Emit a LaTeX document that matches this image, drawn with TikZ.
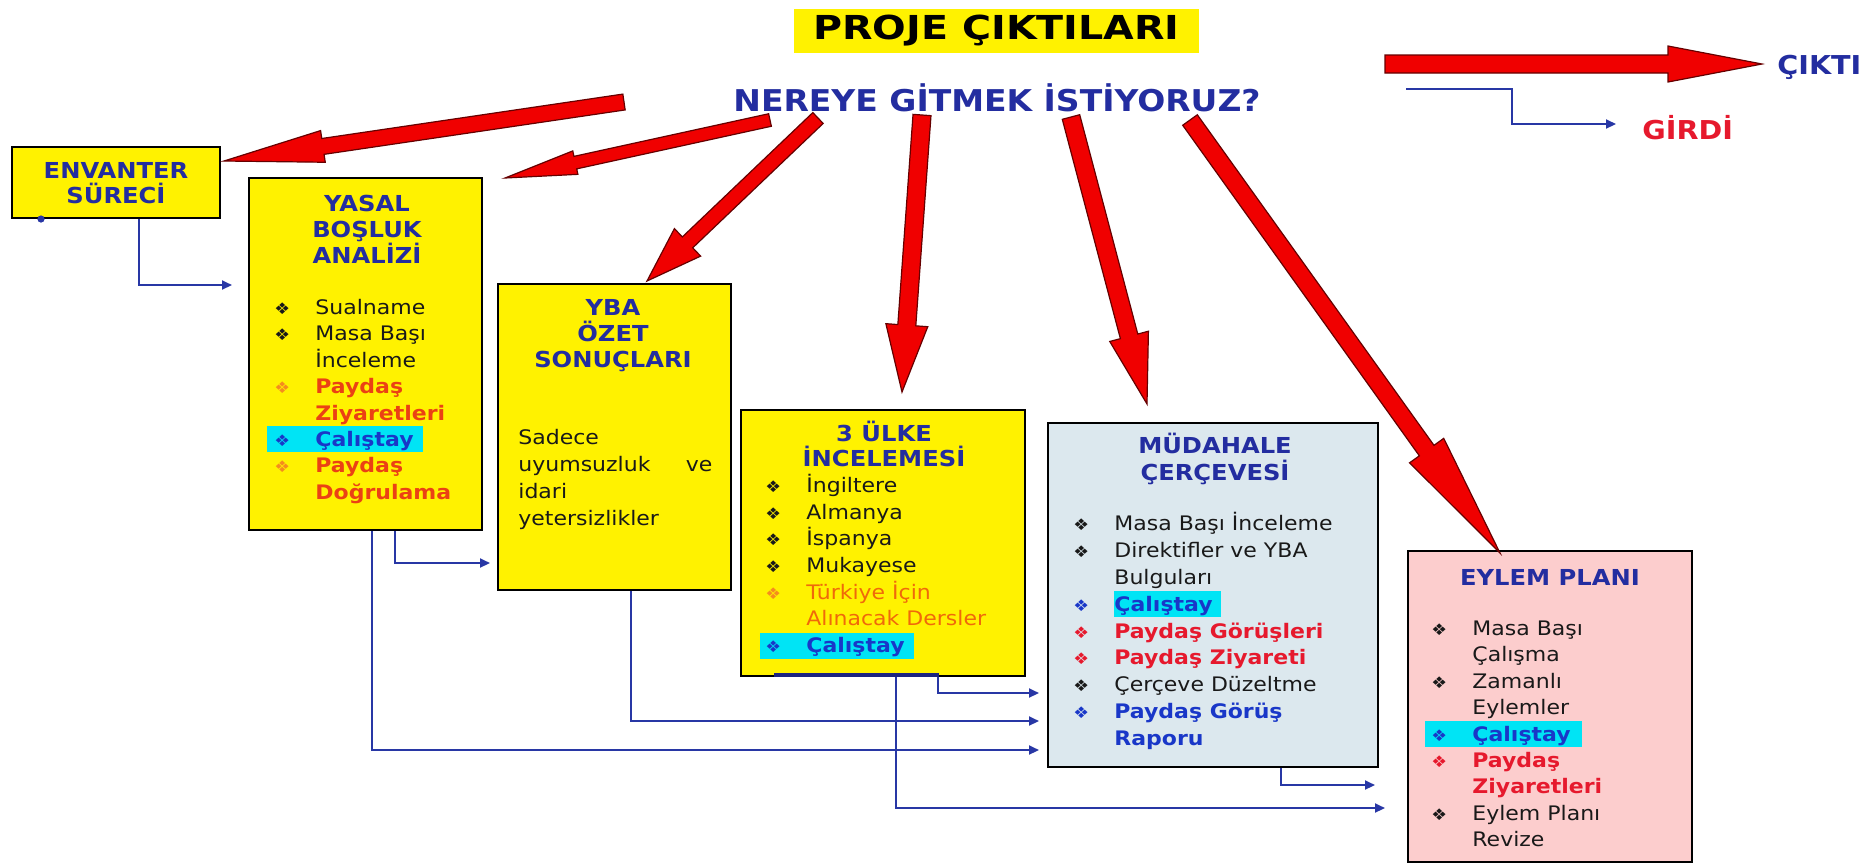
\documentclass[tikz,border=0pt]{standalone}
\usepackage{fontspec}
\setmainfont{DejaVu Sans}[FakeStretch=1.1]
\newfontfamily\Xwide{DejaVu Sans}[FakeStretch=1.2]
\usetikzlibrary{calc,fit,arrows.meta}
\definecolor{tblue}{RGB}{35,45,160}
\definecolor{bodyc}{RGB}{25,25,25}
\definecolor{ored}{RGB}{235,65,20}
\definecolor{orng}{RGB}{245,140,30}
\definecolor{tur}{RGB}{240,105,10}
\definecolor{rred}{RGB}{230,25,45}
\definecolor{calb}{RGB}{25,55,200}
\definecolor{hl}{RGB}{0,228,245}
\definecolor{cblue}{RGB}{40,55,165}
\definecolor{mudf}{RGB}{220,232,238}
\definecolor{eylf}{RGB}{252,205,205}
\definecolor{ared}{RGB}{240,0,0}
\tikzset{
  box/.style={draw=black, line width=1pt, inner sep=0pt},
  ybox/.style={box, fill=yellow},
  ttl/.style={font=\bfseries\fontsize{11}{13}\selectfont, text=tblue, align=center, inner sep=0pt, anchor=north},
  lst/.style={font=\fontsize{10}{13.2}\selectfont, align=left, inner sep=0pt, anchor=north west, text=bodyc},
  conn/.style={draw=cblue, line width=1pt, -{Triangle[length=5pt,width=4.5pt]}, shorten >=4pt},
  redarr/.style={fill=ared, draw=black!60!red, line width=0.6pt, line join=miter},
}
\newcommand\Xbul{{\fontsize{8}{8}\selectfont ❖}}
\newcommand\Xitm[3]{\makebox[20pt][l]{\hspace*{-0.5pt}\textcolor{#1}{\Xbul}}\textcolor{#2}{#3}}
\newcommand\Xcont[2]{\hspace*{20pt}\textcolor{#1}{#2}}
\newcommand\Xhl[2]{\makebox[0pt][l]{\hspace*{#1}\textcolor{hl}{\rule[-3pt]{#2}{13pt}}}}
\newcommand\Xst{\rule{0pt}{11pt}}
% tail, tip, head length, shaft half width, head half width
\newcommand\Xredarrow[5]{%
  \coordinate (rac) at ($(#2)!#3!(#1)$);
  \draw[redarr] ($(#1)!#4!90:(#2)$) -- ($(rac)!#4!90:(#2)$) -- ($(rac)!#5!90:(#2)$) -- (#2)
     -- ($(rac)!#5!-90:(#2)$) -- ($(rac)!#4!-90:(#2)$) -- ($(#1)!#4!-90:(#2)$) -- cycle;
}
\begin{document}
\begin{tikzpicture}[x=0.5pt,y=-0.5pt]
\useasboundingbox[fill=white] (0,0) rectangle (1864,864);

% headings
\node[fill=yellow, inner sep=0pt, minimum width=202.5pt, minimum height=22pt,
      font=\Xwide\bfseries\fontsize{16.5}{16.5}\selectfont, text=black] (title) at (996.5,31) {PROJE ÇIKTILARI};
\node[font=\bfseries\fontsize{15}{15}\selectfont, text=tblue, inner sep=0pt] (q) at (997,98) {NEREYE GİTMEK İSTİYORUZ?};

% legend
\node[font=\bfseries\fontsize{13}{13}\selectfont, text=tblue, inner sep=0pt, anchor=west] (cikti) at (1777,67) {ÇIKTI};
\node[font=\bfseries\fontsize{13}{13}\selectfont, text=rred, inner sep=0pt, anchor=west] (girdi) at (1642,128) {GİRDİ};
\coordinate (lgA) at (1385,64);
\coordinate (lgB) at (1762,64);
\coordinate (lg1) at (1406,89);
\coordinate (lgm) at (1512,124);
\coordinate (lg3) at (1616,124);
\draw[conn, shorten >=0pt] (lg1) -| (lgm) -- (lg3);

% boxes
\node[ybox, fit={(12,147) (220,218)}] (env) {};
\node[ybox, fit={(249,178) (482,530)}] (yasal) {};
\node[ybox, fit={(498,284) (731,590)}] (yba) {};
\node[ybox, fit={(741,410) (1025,676)}] (ulke) {};
\node[box, fill=mudf, fit={(1048,423) (1378,767)}] (mud) {};
\node[box, fill=eylf, fit={(1408,551) (1692,862)}] (eylem) {};

% box titles
\node[ttl, font=\bfseries\fontsize{11}{12.5}\selectfont] (env-t) at (116,156) {\Xst ENVANTER\\SÜRECİ};
\node[ttl] (yasal-t) at (367,189) {\Xst YASAL\\BOŞLUK\\ANALİZİ};
\node[ttl] (yba-t) at (613,293) {\Xst YBA\\ÖZET\\SONUÇLARI};
\node[ttl, font=\bfseries\fontsize{11}{12.5}\selectfont] (ulke-t) at (884,419) {\Xst 3 ÜLKE\\İNCELEMESİ};
\node[ttl, font=\bfseries\fontsize{11}{13.5}\selectfont] (mud-t) at (1215,431) {\Xst MÜDAHALE\\ÇERÇEVESİ};
\node[ttl] (eylem-t) at (1550,563) {\Xst EYLEM PLANI};

% box contents
\node[lst] (yasal-l) at (275,292) {\Xst\Xitm{bodyc}{bodyc}{Sualname}\\
\Xitm{bodyc}{bodyc}{Masa Başı}\\
\Xcont{bodyc}{İnceleme}\\
\Xitm{orng}{ored}{\bfseries Paydaş}\\
\Xcont{ored}{\bfseries Ziyaretleri}\\
\Xhl{-4pt}{78pt}\Xitm{calb}{calb}{\bfseries Çalıştay}\\
\Xitm{orng}{ored}{\bfseries Paydaş}\\
\Xcont{ored}{\bfseries Doğrulama}};

\node[lst, font=\fontsize{10}{13.5}\selectfont] (yba-l) at (518,422) {\Xst Sadece\\
\makebox[97pt][l]{uyumsuzluk\hfill ve}\\
idari\\
yetersizlikler};

\node[lst, font=\fontsize{10}{13.35}\selectfont] (ulke-l) at (766,470) {\Xst\Xitm{bodyc}{bodyc}{İngiltere}\\
\Xitm{bodyc}{bodyc}{Almanya}\\
\Xitm{bodyc}{bodyc}{İspanya}\\
\Xitm{bodyc}{bodyc}{Mukayese}\\
\Xitm{orng}{tur}{Türkiye İçin}\\
\Xcont{tur}{Alınacak Dersler}\\
\Xhl{-3pt}{77pt}\Xitm{calb}{calb}{\bfseries Çalıştay}};

\node[lst, font=\fontsize{10}{13.45}\selectfont] (mud-l) at (1074,508) {\Xst\Xitm{bodyc}{bodyc}{Masa Başı İnceleme}\\
\Xitm{bodyc}{bodyc}{Direktifler ve YBA}\\
\Xcont{bodyc}{Bulguları}\\
\Xhl{20pt}{53.5pt}\Xitm{calb}{calb}{\bfseries Çalıştay}\\
\Xitm{rred}{rred}{\bfseries Paydaş Görüşleri}\\
\Xitm{rred}{rred}{\bfseries Paydaş Ziyareti}\\
\Xitm{bodyc}{bodyc}{Çerçeve Düzeltme}\\
\Xitm{calb}{calb}{\bfseries Paydaş Görüş}\\
\Xcont{calb}{\bfseries Raporu}};

\node[lst] (eylem-l) at (1432,613) {\Xst\Xitm{bodyc}{bodyc}{Masa Başı}\\
\Xcont{bodyc}{Çalışma}\\
\Xitm{bodyc}{bodyc}{Zamanlı}\\
\Xcont{bodyc}{Eylemler}\\
\Xhl{-3.5pt}{78.5pt}\Xitm{calb}{calb}{\bfseries Çalıştay}\\
\Xitm{rred}{rred}{\bfseries Paydaş}\\
\Xcont{rred}{\bfseries Ziyaretleri}\\
\Xitm{bodyc}{bodyc}{Eylem Planı}\\
\Xcont{bodyc}{Revize}};

% decorations on boxes
\fill[cblue] ($(env.south west)+(30,0)$) circle (1.8pt);
\draw[draw=tblue!80!black, line width=2pt] ($(ulke.south west)+(34,-2)$) -- ($(ulke.south west)+(199,-2)$);

% input connectors
\coordinate (k1) at (139,285);
\coordinate (k2) at (395,563);
\coordinate (k3) at (372,750);
\coordinate (k4) at (631,721);
\coordinate (k5) at (938,693);
\coordinate (k6) at (896,808);
\coordinate (k7) at (1281,785);
\draw[conn, shorten >=8pt] (env.south -| k1) |- (yasal.west |- k1);
\draw[conn, shorten >=3.5pt] (yasal.south -| k2) |- (yba.west |- k2);
\draw[conn] (yasal.south -| k3) |- (mud.west |- k3);
\draw[conn] (yba.south -| k4) |- (mud.west |- k4);
\draw[conn] (ulke.south -| k5) |- (mud.west |- k5);
\draw[conn, shorten >=11pt] (ulke.south -| k6) |- (eylem.west |- k6);
\draw[conn, shorten >=16pt] (mud.south -| k7) |- (eylem.west |- k7);

% output arrows
\coordinate (t1) at (624,102);  \coordinate (h1) at (224,161);
\coordinate (t2) at (770,120);  \coordinate (h2) at (505,178);
\coordinate (t3) at (818,118);  \coordinate (h3) at (647,281);
\coordinate (t4) at (922,115);  \coordinate (h4) at (902,392);
\coordinate (t5) at (1071,117); \coordinate (h5) at (1147,404);
\coordinate (t6) at (1190,120); \coordinate (h6) at (1500,553);
\Xredarrow{t1}{h1}{50pt}{4pt}{8pt}
\Xredarrow{t2}{h2}{36pt}{3.2pt}{6pt}
\Xredarrow{t3}{h3}{28pt}{3.75pt}{9.5pt}
\Xredarrow{t4}{h4}{33.5pt}{4.5pt}{10.5pt}
\Xredarrow{t5}{h5}{35pt}{4.5pt}{10pt}
\Xredarrow{t6}{h6}{63pt}{4.5pt}{10.5pt}
\Xredarrow{lgA}{lgB}{47pt}{4.5pt}{9pt}
\end{tikzpicture}
\end{document}
